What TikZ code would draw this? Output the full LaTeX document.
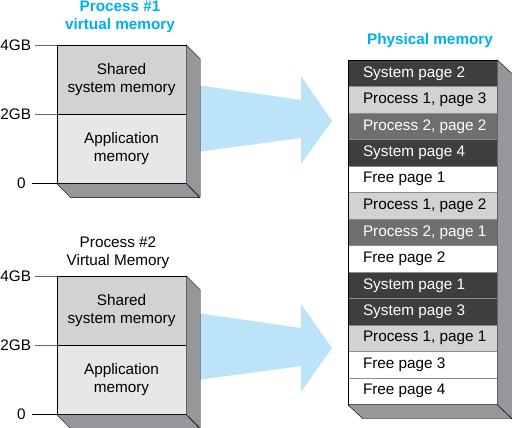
\documentclass[tikz,border=0pt]{standalone}
\usepackage{fontspec}
\setmainfont{Liberation Sans}
\usetikzlibrary{positioning}

\definecolor{sysg}{RGB}{209,210,212}
\definecolor{appg}{RGB}{230,231,232}
\definecolor{sideg}{RGB}{150,151,154}
\definecolor{darkpg}{RGB}{62,62,64}
\definecolor{midpg}{RGB}{110,111,113}
\definecolor{arrowb}{RGB}{187,228,248}
\definecolor{titleb}{RGB}{0,174,239}

\tikzset{
	every node/.style = {font=\fontsize{15.3}{18}\selectfont},
	vpart/.style = {rectangle, draw, thin, align=center, inner sep=0pt,
		minimum width=129pt, minimum height=69pt},
	shared/.style = {vpart, fill=sysg},
	appl/.style = {vpart, fill=appg},
	face/.style = {draw, thin, fill=sideg},
	page/.style = {rectangle, draw=black!45, thin, inner sep=0pt,
		minimum width=149pt, minimum height=26.5pt},
	sysp/.style = {page, fill=darkpg},
	procone/.style = {page, fill=sysg},
	proctwo/.style = {page, fill=midpg},
	freep/.style = {page, fill=white},
	bigarrow/.style = {fill=arrowb},
	tick/.style = {draw, black!60, thin},
	ticklbl/.style = {black, left, inner sep=3.5pt},
	bluetitle/.style = {text=titleb, align=center, inner sep=0pt, font=\fontsize{15.3}{18}\selectfont\bfseries}
}

\begin{document}
\begin{tikzpicture}[x=1pt, y=-1pt]
		\useasboundingbox (0,0) rectangle (512,428);
		
		%arrows
		\fill [bigarrow] (190,84) -- (301,100) -- (301,76) -- (332,121) -- (301,164) -- (301,138) -- (190,153) -- cycle;
		\fill [bigarrow] (190,312) -- (301,328) -- (301,304) -- (332,348) -- (301,392) -- (301,366) -- (190,381) -- cycle;
		
		%process 1
		\node [shared] (s1) at (121.5,79.5) {Shared\\system memory};
		\node [appl, below = 0pt of s1] (a1) {Application\\memory};
		\path [face] (s1.north east) -- ++(14,14) -- ++(0,138) -- (a1.south east) -- cycle;
		\path [face] (a1.south west) -- ++(14,14) -- ++(129,0) -- (a1.south east) -- cycle;
		\node [bluetitle] (t1) at (120,17) {Process \#1\\virtual memory};
		
		\path [tick] (s1.north west) -- ++(-22,0) node [ticklbl] (g4a) {4GB};
		\path [tick] (s1.south west) -- ++(-22,0) node [ticklbl] (g2a) {2GB};
		\path [draw, thin] (a1.south west) -- ++(-25,0) node [ticklbl, inner sep=6pt] (g0a) {0};
		
		%process 2
		\node [shared] (s2) at (121.5,310.5) {Shared\\system memory};
		\node [appl, below = 0pt of s2] (a2) {Application\\memory};
		\path [face] (s2.north east) -- ++(14,14) -- ++(0,138) -- (a2.south east) -- cycle;
		\path [face] (a2.south west) -- ++(14,14) -- ++(129,0) -- (a2.south east) -- cycle;
		\node [align=center, inner sep=0pt] (t2) at (118,253) {Process \#2\\Virtual Memory};
		
		\path [tick] (s2.north west) -- ++(-22,0) node [ticklbl] (g4b) {4GB};
		\path [tick] (s2.south west) -- ++(-22,0) node [ticklbl] (g2b) {2GB};
		\path [draw, thin] (a2.south west) -- ++(-25,0) node [ticklbl, inner sep=6pt] (g0b) {0};
		
		%physical memory
		\foreach \txt/\sty/\col [count=\i] in {
			System page 2/sysp/white, {Process 1, page 3}/procone/black,
			{Process 2, page 2}/proctwo/white, System page 4/sysp/white,
			Free page 1/freep/black, {Process 1, page 2}/procone/black,
			{Process 2, page 1}/proctwo/white, Free page 2/freep/black,
			System page 1/sysp/white, System page 3/sysp/white,
			{Process 1, page 1}/procone/black, Free page 3/freep/black,
			Free page 4/freep/black}
		{
			\node [\sty] (p\i) at (422.5, 46.75+26.5*\i) {};
			\node [anchor=west, inner sep=0pt, text=\col] (l\i) at ([xshift=15pt]p\i.west) {\txt};
		}
		\draw [thin] (p1.north west) rectangle (p13.south east);
		\path [face] (p1.north east) -- ++(15,14) -- ++(0,345) -- (p13.south east) -- cycle;
		\path [face] (p13.south west) -- ++(15,14) -- ++(149,0) -- (p13.south east) -- cycle;
		\node [bluetitle] (t3) at (430,41) {Physical memory};
		
	\end{tikzpicture}
\end{document}
